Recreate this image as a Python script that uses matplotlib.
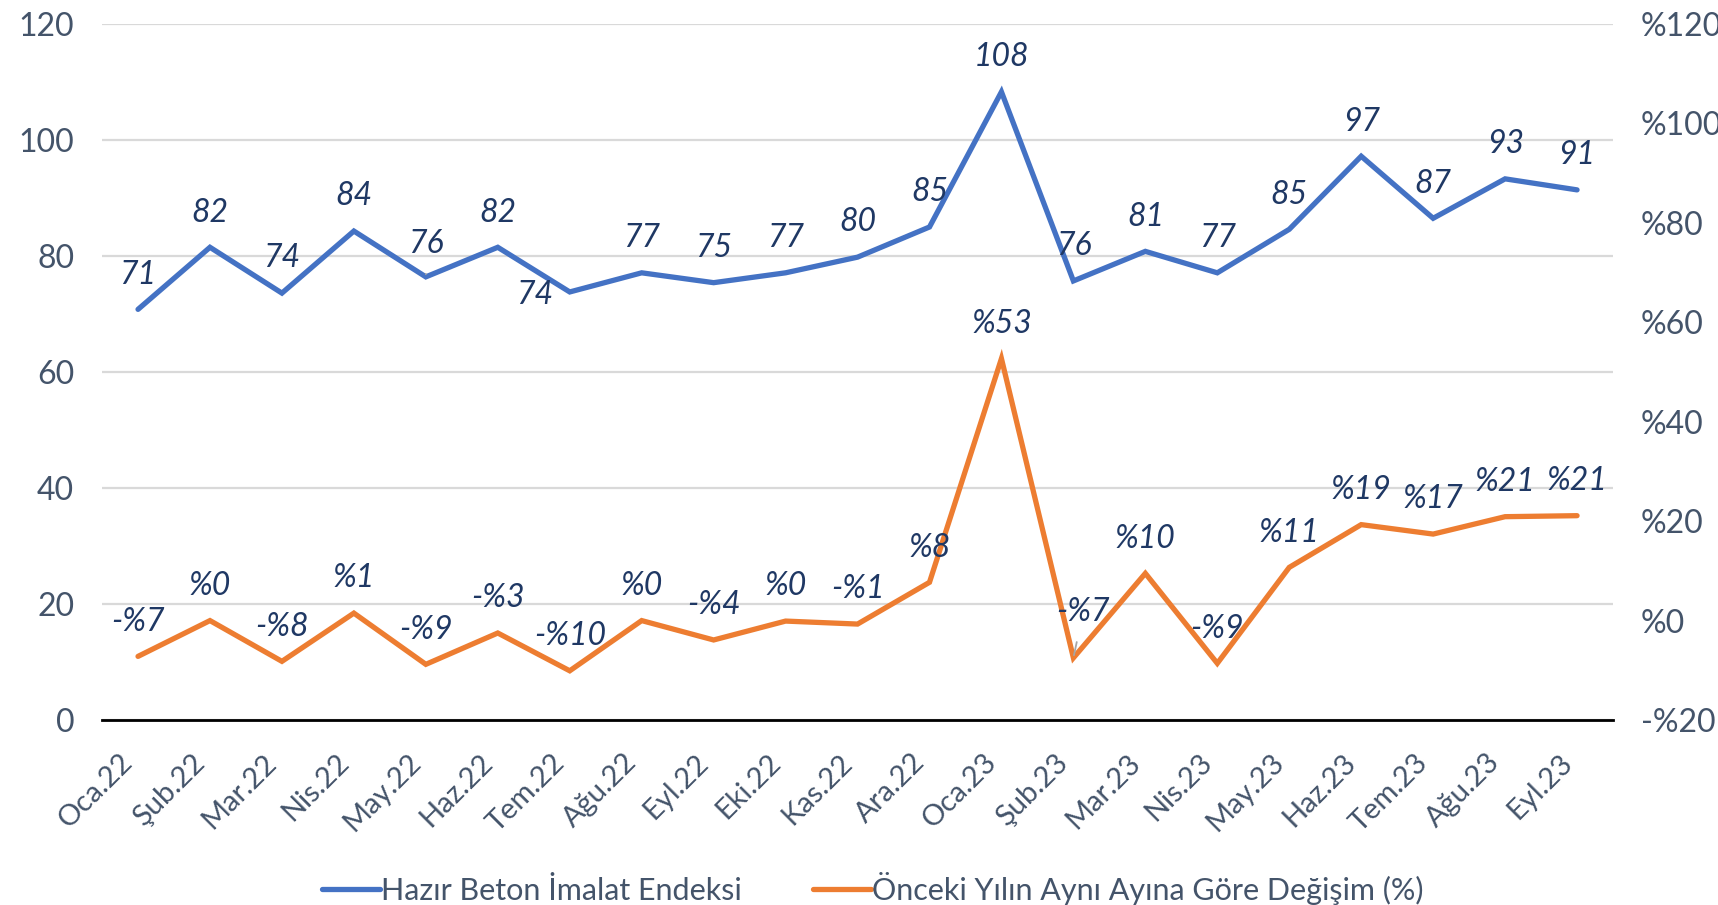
import matplotlib
matplotlib.use("Agg")
import matplotlib.pyplot as plt
from matplotlib import font_manager as fm
from matplotlib.lines import Line2D

# ---- data ----
months = ["Oca.22", "Şub.22", "Mar.22", "Nis.22", "May.22", "Haz.22", "Tem.22",
          "Ağu.22", "Eyl.22", "Eki.22", "Kas.22", "Ara.22", "Oca.23", "Şub.23",
          "Mar.23", "Nis.23", "May.23", "Haz.23", "Tem.23", "Ağu.23", "Eyl.23"]
index_vals = [70.8, 81.5, 73.6, 84.3, 76.4, 81.5, 73.8, 77.1, 75.4, 77.1, 79.8,
              85.0, 108.3, 75.7, 80.8, 77.1, 84.6, 97.2, 86.5, 93.3, 91.4]
index_labels = ["71", "82", "74", "84", "76", "82", "74", "77", "75", "77", "80",
                "85", "108", "76", "81", "77", "85", "97", "87", "93", "91"]
yoy_vals = [-7.2, 0.0, -8.2, 1.5, -8.8, -2.5, -10.1, 0.0, -3.9, -0.1, -0.7,
            7.7, 52.7, -7.5, 9.5, -8.6, 10.7, 19.3, 17.4, 20.9, 21.1]
yoy_labels = ["-%7", "%0", "-%8", "%1", "-%9", "-%3", "-%10", "%0", "-%4", "%0", "-%1",
              "%8", "%53", "-%7", "%10", "-%9", "%11", "%19", "%17", "%21", "%21"]
left_ticks = [0, 20, 40, 60, 80, 100, 120]
right_ticks = [-20, 0, 20, 40, 60, 80, 100, 120]
series_names = ["Hazır Beton İmalat Endeksi", "Önceki Yılın Aynı Ayına Göre Değişim (%)"]

# ---- font ----
avail = {f.name for f in fm.fontManager.ttflist}
family = "DejaVu Sans"
for cand in ["Liberation Sans Narrow", "Lato", "Open Sans"]:
    if cand in avail:
        family = cand
        break
plt.rcParams["font.family"] = [family, "DejaVu Sans"]

FS = 23
TICK_C = "#44546A"
LAB_C = "#1F3864"
BLUE = "#4472C4"
ORANGE = "#ED7D31"
LW = 3.8

fig = plt.figure(figsize=(17.18, 9.05), dpi=100)
ax = fig.add_axes([0.0594, 0.2044, 0.8795, 0.7691])
ax2 = ax.twinx()

x = list(range(len(months)))
ax.plot(x, index_vals, color=BLUE, lw=LW, solid_capstyle="round", solid_joinstyle="miter", zorder=3)
ax2.plot(x, yoy_vals, color=ORANGE, lw=LW, solid_capstyle="round", solid_joinstyle="miter", zorder=3)

ax.set_xlim(-0.5, len(months) - 0.5)
ax.set_ylim(0, 120)
ax2.set_ylim(-20, 120)
ax.set_yticks(left_ticks)
ax.set_yticklabels([str(v) for v in left_ticks])
ax2.set_yticks(right_ticks)
ax2.set_yticklabels([("-%" + str(-v)) if v < 0 else ("%" + str(v)) for v in right_ticks])

ax.grid(axis="y", color="#D9D9D9", lw=1.6)
ax.set_axisbelow(True)
for a in (ax, ax2):
    for s in a.spines.values():
        s.set_visible(False)
ax.spines["bottom"].set_visible(True)
ax.spines["bottom"].set_color("black")
ax.spines["bottom"].set_linewidth(2.0)

ax.tick_params(axis="y", length=0, pad=20, labelsize=FS, labelcolor=TICK_C)
ax2.tick_params(axis="y", length=0, pad=20, labelsize=FS, labelcolor=TICK_C)
ax.set_xticks(x)
ax.set_xticklabels(months, rotation=45, ha="right", va="top",
                   fontsize=21, color=TICK_C)
ax.tick_params(axis="x", length=0, pad=21)

# ---- data labels ----
def label(a, xi, yv, txt, dx=0, dy=25, leader=False):
    kw = {}
    if leader:
        kw["arrowprops"] = dict(arrowstyle="-", color="#A6A6A6", lw=1.3, shrinkA=9, shrinkB=2)
    a.annotate(txt, (xi, yv), xytext=(dx, dy), textcoords="offset points",
               ha="center", va="center", fontsize=FS, style="italic", color=LAB_C,
               zorder=5, **kw)

for i, (v, t) in enumerate(zip(index_vals, index_labels)):
    if i == 6:
        label(ax, i, v, t, dx=-25, dy=-2)
    elif i == 4:
        label(ax, i, v, t, dy=24, leader=True)
    else:
        label(ax, i, v, t)

for i, (v, t) in enumerate(zip(yoy_vals, yoy_labels)):
    if i == 13:
        label(ax2, i, v, t, dx=7, dy=33, leader=True)
    else:
        label(ax2, i, v, t)

# ---- legend ----
handles = [Line2D([], [], color=BLUE, lw=LW, solid_capstyle="round"),
           Line2D([], [], color=ORANGE, lw=LW, solid_capstyle="round")]
leg = fig.legend(handles, series_names, loc="lower center", bbox_to_anchor=(0.508, -0.03),
                 ncol=2, frameon=False, fontsize=22, handlelength=1.9, handletextpad=0.05,
                 columnspacing=2.3)
for t in leg.get_texts():
    t.set_color(TICK_C)

fig.savefig("out.png", dpi=100)
